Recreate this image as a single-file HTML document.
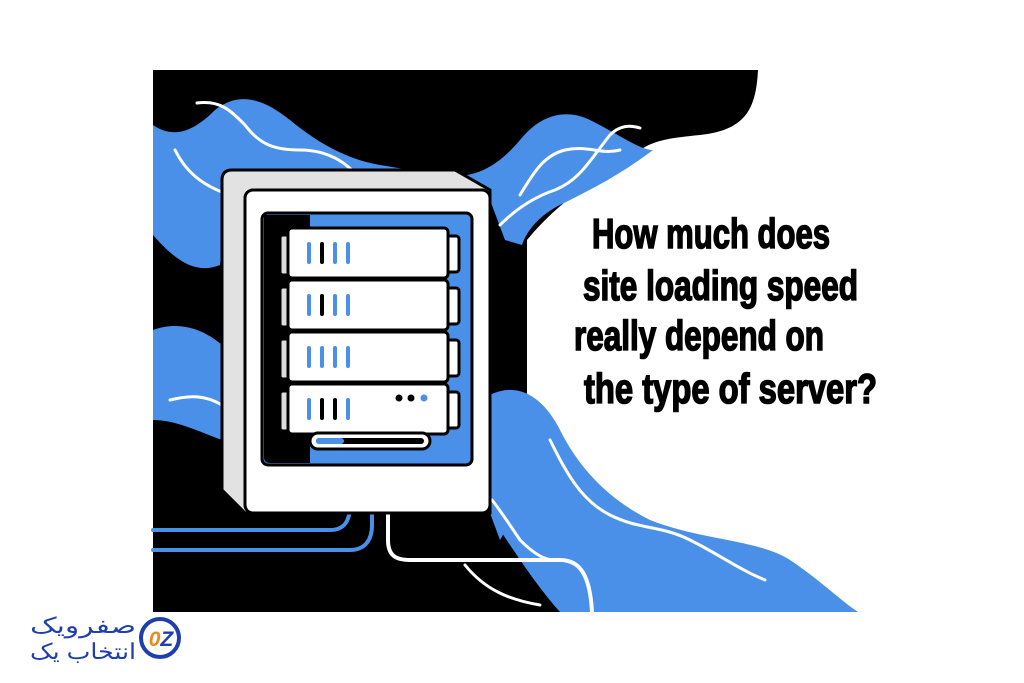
<!DOCTYPE html>
<html><head><meta charset="utf-8"><style>
html,body{margin:0;padding:0;background:#fff;width:1024px;height:683px;overflow:hidden}
.t{font-family:"Liberation Sans Narrow","Liberation Sans",sans-serif;font-weight:bold;font-size:42px;fill:#000;stroke:#000;stroke-width:1.6}
</style></head><body>
<svg width="1024" height="683" viewBox="0 0 1024 683" xmlns="http://www.w3.org/2000/svg">
<path d="M153 70 H758 C756 110 745 130 700 135 C670 138 655 140 640 150 C600 175 560 200 527 240 V470 L560 612 H153 Z" fill="#000"/>
<path d="M153 125 C175 140 195 130 215 110 C240 90 265 100 290 120 C320 145 350 160 380 165 L440 175 C470 180 495 170 520 140 C540 115 565 108 590 120 C620 135 640 150 653 150 C620 175 590 190 560 205 C540 215 527 230 522 245 L505 240 L490 200 L430 190 L300 175 L230 175 L220 265 C195 275 175 260 153 235 Z" fill="#4a90e8"/>
<path d="M153 330 C180 320 205 330 222 345 V440 C195 430 175 420 153 420 Z" fill="#4a90e8"/>
<path d="M490 395 C520 380 545 400 560 430 C580 470 610 500 650 520 C700 540 760 540 790 560 C820 580 840 600 858 612 H560 C540 590 520 560 500 530 Z" fill="#4a90e8"/>
<path d="M490 395 C520 385 548 410 560 440 L500 540 L490 513 Z" fill="#4a90e8"/>
<g fill="none" stroke="#fff" stroke-width="3" stroke-linecap="round">
<path d="M197 103 C220 100 230 110 245 125 C260 145 275 150 300 150 C330 150 350 165 360 180"/>
<path d="M175 150 C185 170 200 185 230 195"/>
<path d="M520 195 C535 170 545 155 565 150 C590 145 600 155 620 150"/>
<path d="M500 225 C520 205 540 195 555 190 C580 180 590 160 610 135 C620 125 630 125 640 128"/>
<path d="M170 400 C190 395 205 395 222 405"/>
<path d="M492 500 C500 510 510 525 520 540 C535 555 545 560 555 560"/>
<path d="M465 565 C485 590 510 600 540 605"/>
<path d="M550 440 C565 470 580 500 610 515 C640 530 660 525 690 540 C720 555 740 570 765 580"/>
</g>
<g fill="none" stroke-width="4" stroke-linecap="round">
<path d="M153 530 H330 C345 530 350 520 350 505 V442" stroke="#4a90e8"/>
<path d="M153 550 H350 C365 550 372 540 372 525 V442" stroke="#4a90e8"/>
<path d="M388 442 V540 C388 555 395 560 410 560 H560 C580 560 590 575 592 612" stroke="#fff"/>
</g>
<path d="M222 180 Q222 170 232 170 H455 L490 190 V513 H245 L222 490 Z" fill="#e2e2e2" stroke="#000" stroke-width="3"/>
<rect x="245" y="190" width="245" height="323" rx="8" fill="#fff" stroke="#000" stroke-width="3"/>
<rect x="262" y="213" width="210" height="252" rx="6" fill="#4a90e8" stroke="#000" stroke-width="3"/>
<path d="M264 215 H310 V463 H270 Q264 463 264 457 Z" fill="#000"/>
<g stroke="#000" stroke-width="3">
<g><rect x="446" y="236" width="13" height="36" rx="3" fill="#fff"/><rect x="280" y="235" width="15" height="40" rx="3" fill="#ddd"/><rect x="288" y="228" width="160" height="50" rx="4" fill="#fff"/></g>
<g transform="translate(0,52)"><rect x="446" y="236" width="13" height="36" rx="3" fill="#fff"/><rect x="280" y="235" width="15" height="40" rx="3" fill="#ddd"/><rect x="288" y="228" width="160" height="50" rx="4" fill="#fff"/></g>
<g transform="translate(0,104)"><rect x="446" y="236" width="13" height="36" rx="3" fill="#fff"/><rect x="280" y="235" width="15" height="40" rx="3" fill="#ddd"/><rect x="288" y="228" width="160" height="50" rx="4" fill="#fff"/></g>
<g transform="translate(0,156)"><rect x="446" y="236" width="13" height="36" rx="3" fill="#fff"/><rect x="280" y="235" width="15" height="40" rx="3" fill="#ddd"/><rect x="288" y="228" width="160" height="50" rx="4" fill="#fff"/></g>
</g>
<g stroke-width="4" stroke-linecap="round">
<line x1="309" y1="244" x2="309" y2="262" stroke="#4a90e8"/><line x1="322" y1="244" x2="322" y2="262" stroke="#000"/><line x1="335" y1="244" x2="335" y2="262" stroke="#4a90e8"/><line x1="348" y1="244" x2="348" y2="262" stroke="#4a90e8"/>
<line x1="309" y1="296" x2="309" y2="314" stroke="#4a90e8"/><line x1="322" y1="296" x2="322" y2="314" stroke="#000"/><line x1="335" y1="296" x2="335" y2="314" stroke="#4a90e8"/><line x1="348" y1="296" x2="348" y2="314" stroke="#4a90e8"/>
<line x1="309" y1="348" x2="309" y2="366" stroke="#4a90e8"/><line x1="322" y1="348" x2="322" y2="366" stroke="#4a90e8"/><line x1="335" y1="348" x2="335" y2="366" stroke="#4a90e8"/><line x1="348" y1="348" x2="348" y2="366" stroke="#4a90e8"/>
<line x1="309" y1="400" x2="309" y2="418" stroke="#4a90e8"/><line x1="322" y1="400" x2="322" y2="418" stroke="#000"/><line x1="335" y1="400" x2="335" y2="418" stroke="#000"/><line x1="348" y1="400" x2="348" y2="418" stroke="#4a90e8"/>
</g>
<circle cx="399" cy="398" r="3.5" fill="#000"/><circle cx="411" cy="398" r="3.5" fill="#000"/><circle cx="424" cy="398" r="3.5" fill="#4a90e8"/>
<rect x="310" y="433" width="120" height="16" rx="8" fill="#fff" stroke="#000" stroke-width="3"/>
<rect x="316" y="438" width="108" height="6" rx="3" fill="#000"/>
<rect x="316" y="438" width="28" height="6" rx="3" fill="#4a90e8"/>
<g class="t">
<text x="592" y="248" textLength="238" lengthAdjust="spacingAndGlyphs">How much does</text>
<text x="583" y="300" textLength="275" lengthAdjust="spacingAndGlyphs">site loading speed</text>
<text x="574" y="350" textLength="250" lengthAdjust="spacingAndGlyphs">really depend on</text>
<text x="584" y="403" textLength="293" lengthAdjust="spacingAndGlyphs">the type of server?</text>
</g>
<circle cx="160" cy="638" r="19" fill="none" stroke="#1f3fae" stroke-width="4"/>
<text x="161" y="646" text-anchor="middle" font-family="Liberation Sans,sans-serif" font-weight="bold" font-style="italic" font-size="21" fill="#e88a1a">0<tspan fill="#1f3fae">Z</tspan></text>
<text x="136" y="633" text-anchor="end" textLength="106" lengthAdjust="spacingAndGlyphs" font-family="'Liberation Sans','Noto Sans CJK SC',sans-serif" font-size="22" fill="#1f3fae">صفرویک</text>
<text x="136" y="659" text-anchor="end" textLength="106" lengthAdjust="spacingAndGlyphs" font-family="'Liberation Sans','Noto Sans CJK SC',sans-serif" font-size="22" fill="#1f3fae">انتخاب یک</text>
</svg>
</body></html>
